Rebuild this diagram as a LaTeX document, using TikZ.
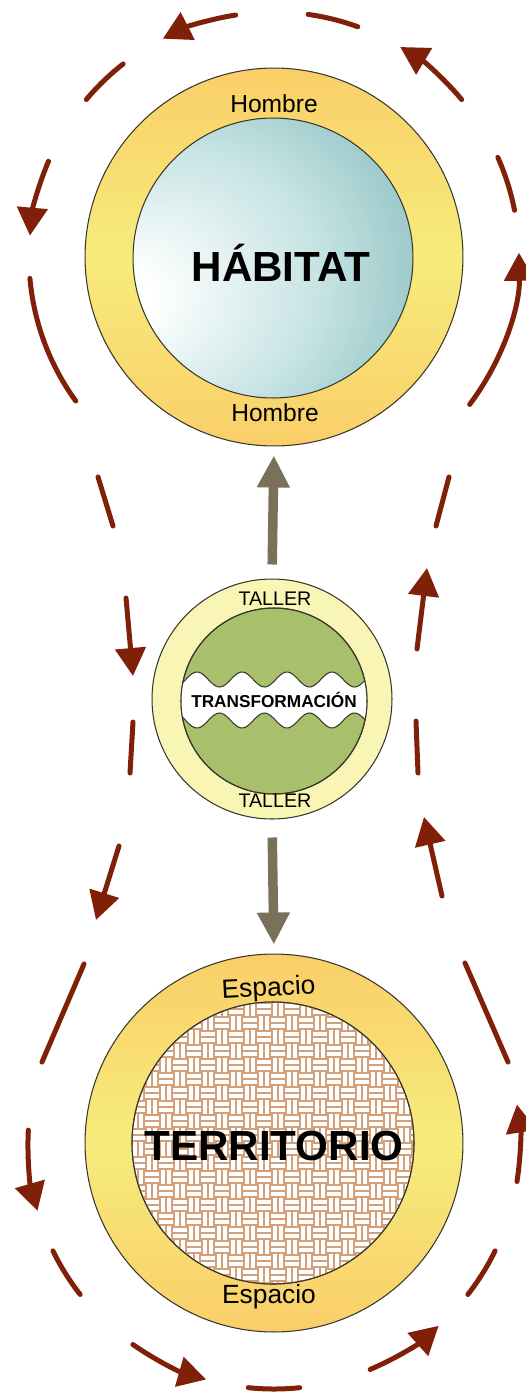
\documentclass[tikz,border=0pt]{standalone}
\usepackage{fontspec}
\setmainfont{Liberation Sans}
\usetikzlibrary{arrows.meta}

\definecolor{cycred}{RGB}{128,32,8}
\definecolor{flowgray}{RGB}{122,113,90}
\definecolor{ringorange}{RGB}{250,206,104}
\definecolor{ringyellow}{RGB}{246,236,124}
\definecolor{tealc}{RGB}{98,166,166}
\definecolor{tealmid}{RGB}{198,227,227}
\definecolor{tallerfill}{RGB}{249,245,180}
\definecolor{tallergreen}{RGB}{168,192,108}
\definecolor{weavec}{RGB}{212,160,122}
\definecolor{rimline}{RGB}{55,55,45}

\pgfdeclareradialshading{habitatglow}{\pgfpoint{-30bp}{-8bp}}{color(0bp)=(white); color(5bp)=(white); color(24bp)=(tealmid); color(50bp)=(tealc)}

\tikzset{
  ring/.style={circle, draw=rimline, line width=0.6pt, inner sep=0pt},
  weave/.style={draw=weavec, line width=0.6pt},
  cyc/.style={draw=cycred, line width=0.1cm, line cap=round},
  cycarrow/.style={cyc, -{Triangle[width=0.6cm, length=0.56cm]}},
  flow/.style={draw=flowgray, line width=0.19cm, -{Triangle[width=0.62cm, length=0.64cm]}}
}

\begin{document}
\begin{tikzpicture}[x=0.02cm, y=0.02cm]
        \useasboundingbox (0,0) rectangle (526,-1393);

        % habitat
        \node[ring, minimum size=7.56cm, top color=ringorange, bottom color=ringorange, middle color=ringyellow] (hombre) at (274,-257) {};
        \node[ring, minimum size=5.6cm, shade, shading=habitatglow] (habitat) at (273,-258) {};

        % taller
        \node[ring, minimum size=4.8cm, fill=tallerfill] (taller) at (272,-699) {};
        \node[ring, minimum size=3.72cm, fill=tallergreen] (transf) at (274,-701) {};
        \begin{scope}
            \clip (274,-701) circle (93);
            \draw[rimline, line width=0.6pt, fill=white] plot[domain=170:380, samples=90] (\x,{-679.5+7.5*cos(8*(\x-197))}) -- plot[domain=380:170, samples=90] (\x,{-720.5-7.5*cos(8*(\x-197))}) -- cycle;
        \end{scope}
        \draw[rimline, line width=0.6pt] (274,-701) circle (93);

        % territorio
        \node[ring, minimum size=7.56cm, top color=ringorange, bottom color=ringorange, middle color=ringyellow] (espacio) at (274,-1143) {};
        \node[ring, minimum size=5.64cm, fill=white] (territorio) at (273,-1143) {};
        \begin{scope}
            \clip (273,-1143) circle (141);
            \foreach \i in {0,...,20}{
                \foreach \j in {0,...,20}{
                    \pgfmathtruncatemacro{\wv}{mod(\i+\j,2)}
                    \ifnum\wv=0
                        \draw[weave, shift={(131+14*\i,-1002-14*\j)}] (1,0) -- (1,-14) (7,0) -- (7,-14) (13,0) -- (13,-14);
                    \else
                        \draw[weave, shift={(131+14*\i,-1002-14*\j)}] (0,-1) -- (14,-1) (0,-7) -- (14,-7) (0,-13) -- (14,-13);
                    \fi
                }
            }
        \end{scope}
        \draw[rimline, line width=0.6pt] (273,-1143) circle (141);

        % labels
        \node[font=\bfseries\fontsize{24}{24}\selectfont, anchor=base] (habitatlbl) at (281,-281) {HÁBITAT};
        \node[font=\fontsize{14}{14}\selectfont, anchor=base] (hombre1) at (274,-112) {Hombre};
        \node[font=\fontsize{14}{14}\selectfont, anchor=base] (hombre2) at (275,-421) {Hombre};
        \node[font=\fontsize{11.2}{12}\selectfont, anchor=base] (taller1) at (275,-605) {TALLER};
        \node[font=\fontsize{11.2}{12}\selectfont, anchor=base] (taller2) at (275,-807) {TALLER};
        \node[font=\bfseries\fontsize{9.8}{10}\selectfont, anchor=base] (transflbl) at (274,-707) {TRANSFORMACIÓN};
        \node[font=\fontsize{15}{15}\selectfont, anchor=base, rotate=3] (espacio1) at (269,-996) {Espacio};
        \node[font=\fontsize{15}{15}\selectfont, anchor=base] (espacio2) at (269,-1303) {Espacio};
        \node[font=\bfseries\fontsize{24}{24}\selectfont, anchor=base] (territoriolbl) at (274,-1160) {TERRITORIO};

        % flow arrows
        \draw[flow, shorten <=0.28cm, shorten >=0.18cm] (taller.north) -- (hombre.south);
        \draw[flow, shorten <=0.36cm, shorten >=0.18cm] (taller.south) -- (espacio.north);

        % cycle round habitat
        \draw[cyc] ([shift={(70:245)}]hombre.center) arc (70:82:245);
        \draw[cycarrow] ([shift={(99:245)}]hombre.center) arc (99:117:245);
        \draw[cyc] ([shift={(128:245)}]hombre.center) arc (128:140:245);
        \draw[cycarrow] ([shift={(157:245)}]hombre.center) arc (157:175:245);
        \draw[cyc] ([shift={(185:245)}]hombre.center) arc (185:216:245);
        \draw[cycarrow] ([shift={(-37:245)}]hombre.center) arc (-37:1:245);
        \draw[cyc] ([shift={(11:245)}]hombre.center) arc (11:24:245);
        \draw[cycarrow] ([shift={(40:245)}]hombre.center) arc (40:59:245);

        % cycle sides
        \draw[cyc] (98,-477) -- (113,-526);
        \draw[cycarrow] (126,-598) -- (133,-676);
        \draw[cyc] (133,-722) -- (130,-773);
        \draw[cycarrow] (119,-846) -- (96,-920);
        \draw[cyc] (84,-964) -- (42,-1062);
        \draw[cyc] (508,-1062) -- (465,-963);
        \draw[cycarrow] (442,-896) -- (424,-817);
        \draw[cyc] (418,-773) -- (416,-721);
        \draw[cycarrow] (417,-649) -- (427,-568);
        \draw[cyc] (436,-526) -- (449,-477);

        % cycle round territorio
        \draw[cycarrow] ([shift={(177:246)}]espacio.center) arc (177:196:246);
        \draw[cyc] ([shift={(206:246)}]espacio.center) arc (206:218:246);
        \draw[cycarrow] ([shift={(235:246)}]espacio.center) arc (235:254:246);
        \draw[cyc] ([shift={(264:246)}]espacio.center) arc (264:276:246);
        \draw[cycarrow] ([shift={(293:246)}]espacio.center) arc (293:312:246);
        \draw[cyc] ([shift={(322:246)}]espacio.center) arc (322:334:246);
        \draw[cycarrow] ([shift={(-9:246)}]espacio.center) arc (-9:9:246);
\end{tikzpicture}
\end{document}
